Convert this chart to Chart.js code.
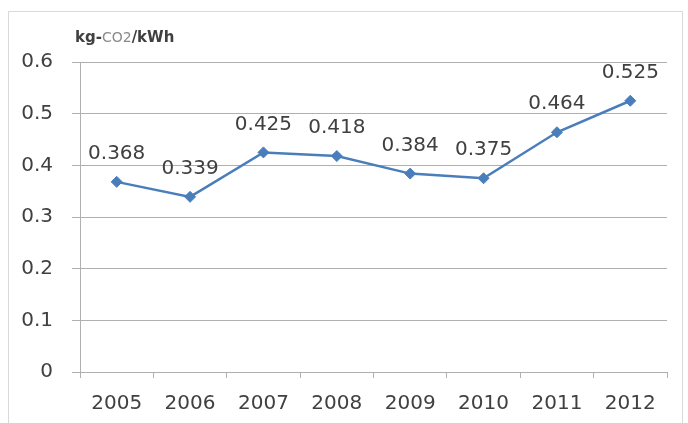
<!DOCTYPE html>
<html>
<head>
<meta charset="utf-8">
<script src="https://cdn.jsdelivr.net/npm/chart.js@4/dist/chart.umd.min.js"></script>
<style>
  html, body { margin: 0; padding: 0; background: #fff; }
  #wrap { width: 688px; height: 423px; }
</style>
</head>
<body>
<div id="wrap"><canvas id="c" width="688" height="423"></canvas></div>
<script>
// CO2 emission factor per year
const years = ['2005', '2006', '2007', '2008', '2009', '2010', '2011', '2012'];
const emissionFactor = [0.368, 0.339, 0.425, 0.418, 0.384, 0.375, 0.464, 0.525];
const unitParts = [
  { text: 'kg-', weight: 'bold', color: '#404040' },
  { text: 'CO2', weight: 'normal', color: '#8a8a8a' },
  { text: '/kWh', weight: 'bold', color: '#404040' }
];

const FONT = "'DejaVu Sans', sans-serif";
const TEXT = '#404040';
const GRID = '#b0b0b0';

// light frame around the whole chart
const framePlugin = {
  id: 'frame',
  beforeDraw(chart) {
    const ctx = chart.ctx;
    ctx.save();
    ctx.fillStyle = '#fff';
    ctx.fillRect(0, 0, chart.width, chart.height);
    ctx.strokeStyle = '#d9d9d9';
    ctx.lineWidth = 1;
    ctx.strokeRect(8.5, 11.5, 674, 420);
    ctx.restore();
  }
};

// unit caption above the value axis
const unitPlugin = {
  id: 'unit',
  afterDraw(chart) {
    const ctx = chart.ctx;
    ctx.save();
    ctx.textBaseline = 'middle';
    ctx.textAlign = 'left';
    let x = 75;
    unitParts.forEach(p => {
      ctx.font = p.weight + ' ' + (p.weight === 'bold' ? 15 : 14) + 'px ' + FONT;
      ctx.fillStyle = p.color;
      ctx.fillText(p.text, x, 38);
      x += ctx.measureText(p.text).width;
    });
    ctx.restore();
  }
};

// value labels above each point
const valueLabelPlugin = {
  id: 'valueLabels',
  afterDatasetsDraw(chart) {
    const ctx = chart.ctx;
    const meta = chart.getDatasetMeta(0);
    const data = chart.data.datasets[0].data;
    ctx.save();
    ctx.font = '20px ' + FONT;
    ctx.fillStyle = TEXT;
    ctx.textAlign = 'center';
    ctx.textBaseline = 'middle';
    meta.data.forEach((pt, i) => {
      ctx.fillText(data[i].toFixed(3), pt.x, pt.y - 28);
    });
    ctx.restore();
  }
};

new Chart(document.getElementById('c'), {
  type: 'line',
  data: {
    labels: years,
    datasets: [{
      data: emissionFactor,
      borderColor: '#4a7ebb',
      backgroundColor: '#4a7ebb',
      borderWidth: 2.5,
      pointStyle: 'rectRot',
      pointRadius: 5.5,
      pointBorderWidth: 1,
      tension: 0,
      fill: false
    }]
  },
  options: {
    responsive: false,
    animation: false,
    devicePixelRatio: 1,
    layout: { padding: { left: 0, top: 62, right: 21, bottom: 0 } },
    plugins: {
      legend: { display: false },
      tooltip: { enabled: false },
      title: { display: false }
    },
    scales: {
      x: {
        offset: true,
        grid: {
          offset: true,
          drawOnChartArea: false,
          drawTicks: true,
          tickLength: 6,
          color: GRID
        },
        border: { color: GRID, width: 1 },
        ticks: {
          color: TEXT,
          font: { family: FONT, size: 20 },
          padding: 14,
          maxRotation: 0
        },
        afterFit(scale) { scale.height = 51; }
      },
      y: {
        min: 0,
        max: 0.6,
        grid: {
          color: GRID,
          tickLength: 8,
          drawTicks: true
        },
        border: { color: GRID, width: 1 },
        ticks: {
          stepSize: 0.1,
          color: TEXT,
          font: { family: FONT, size: 20 },
          padding: 19,
          callback: v => (Math.round(v * 10) / 10).toString()
        },
        afterFit(scale) { scale.width = 80; }
      }
    }
  },
  plugins: [framePlugin, unitPlugin, valueLabelPlugin]
});
</script>
</body>
</html>
